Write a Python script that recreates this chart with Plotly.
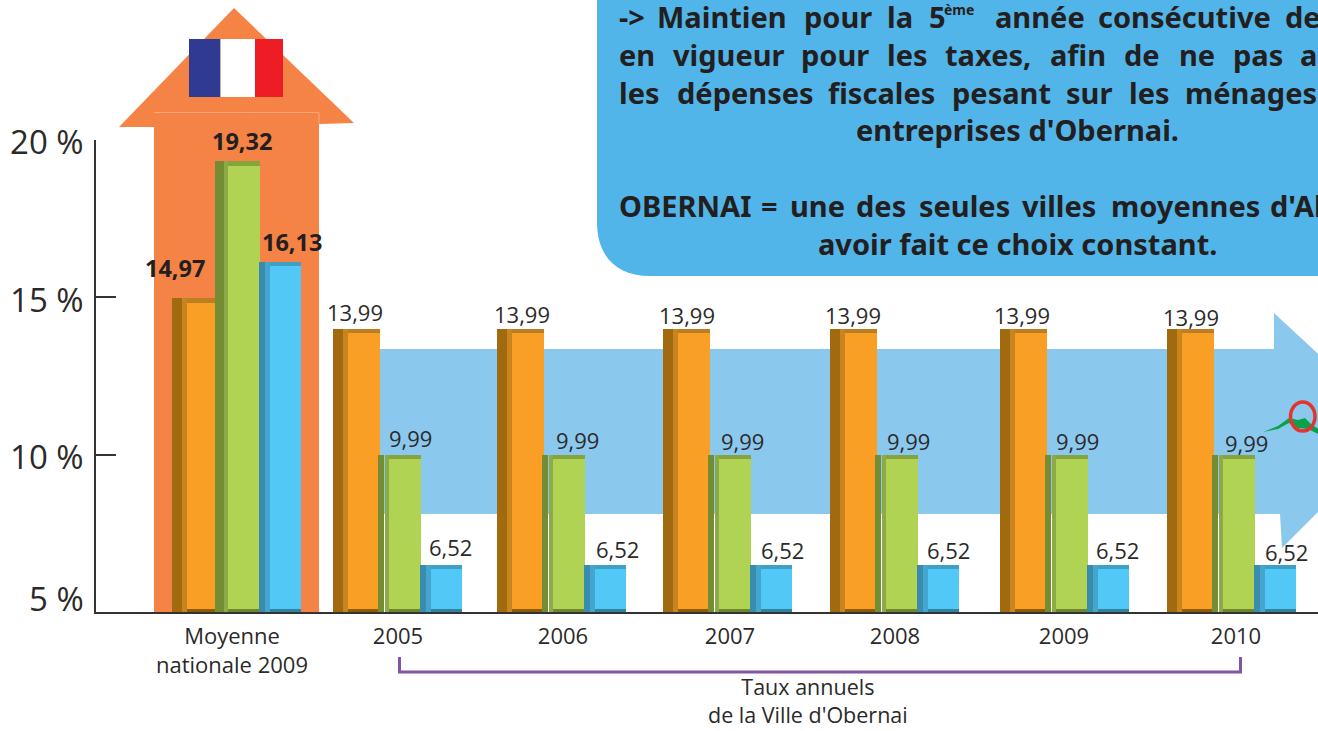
import plotly.graph_objects as go

# ---------- data ----------
categories = ["Moyenne<br>nationale 2009", "2005", "2006", "2007", "2008", "2009", "2010"]
taxe_a = [14.97, 13.99, 13.99, 13.99, 13.99, 13.99, 13.99]
taxe_b = [19.32, 9.99, 9.99, 9.99, 9.99, 9.99, 9.99]
taxe_c = [16.13, 6.52, 6.52, 6.52, 6.52, 6.52, 6.52]
y_ticks = [5, 10, 15, 20]
y_labels = ["5 %", "10 %", "15 %", "20 %"]

# ---------- layout helpers ----------
W, H = 1318, 731
X0, Y_BASE, Y_TOP = 96, 612, 139.5
def px(v): return v / W
def py(v): return 1 - v / H
def path(points):
    return "M " + " L ".join(f"{px(a):.5f},{py(b):.5f}" for a, b in points) + " Z"

group_left = [172, 333, 497, 663, 830, 1000, 1167]
tick_pos = [232, 398, 563, 730, 895, 1064, 1236]
label_dy = [0, 0, -2, -3, -3, -3, -5]
label_dx = [0, -1, 2, 1, 0, -1, 1]
FONT = "Open Sans"
INK = "#2b2a29"

series = [
    dict(name="A", values=taxe_a, side=[(0, 10)] * 7, bevel=(10, 15), front=(15, 47),
         colors=("#a16a0e", "#c8851f", "#bb7e22", "#f99f26", "#8f5c06"),
         lab=[3] + [23] * 6, bold_dy=30),
    dict(name="B", values=taxe_b, side=[(43, 52)] + [(45, 51)] * 6, bevel=(52, 56), front=(56, 88),
         colors=("#748c34", "#8eaa48", "#86a43e", "#b1d353", "#6d8730"),
         lab=[70] + [78] * 6, bold_dy=20),
    dict(name="C", values=taxe_c, side=[(87, 93)] * 7, bevel=(93, 98), front=(98, 129),
         colors=("#3a8cae", "#44a6cf", "#3fa0c6", "#52c8f6", "#33829f"),
         lab=[120] + [118] * 6, bold_dy=19),
]

fig = go.Figure()
TOP_STRIP = 0.13
BOTTOM_STRIP = 0.11
for s in series:
    dark, mid, top, front, bottom = s["colors"]
    n = len(s["values"])
    def add(lefts, rights, tops, bases, color):
        fig.add_trace(go.Bar(
            x=[(a + b) / 2 for a, b in zip(lefts, rights)],
            width=[b - a for a, b in zip(lefts, rights)],
            y=[t - b for t, b in zip(tops, bases)], base=bases,
            marker=dict(color=color, line=dict(width=0)),
            showlegend=False, hoverinfo="skip", name=s["name"]))
    add([g + a for g, (a, _) in zip(group_left, s["side"])],
        [g + b for g, (_, b) in zip(group_left, s["side"])], s["values"], [5] * n, dark)
    add([g + s["bevel"][0] for g in group_left], [g + s["bevel"][1] for g in group_left],
        s["values"], [5] * n, mid)
    add([g + s["front"][0] for g in group_left], [g + s["front"][1] for g in group_left],
        s["values"], [5] * n, top)
    add([g + s["front"][0] for g in group_left], [g + s["front"][1] for g in group_left],
        [v - TOP_STRIP for v in s["values"]], [5 + BOTTOM_STRIP] * n, front)
    add([g + s["front"][0] for g in group_left], [g + s["front"][1] for g in group_left],
        [5 + BOTTOM_STRIP] * n, [5] * n, bottom)

annotations = []
# value labels
for s in series:
    for i, v in enumerate(s["values"]):
        txt = f"{v:.2f}".replace(".", ",")
        national = i == 0
        annotations.append(dict(
            x=group_left[i] + s["lab"][i] + label_dx[i], y=v, xref="x", yref="y",
            text=f"<b>{txt}</b>" if national else txt, showarrow=False,
            xanchor="center", yanchor="middle",
            yshift=s["bold_dy"] if national else 17 + label_dy[i],
            font=dict(family=FONT, size=23.5 if national else 22,
                      color=INK if not national else "#231f20")))
# "5 %" sits above its tick in the source
annotations.append(dict(x=px(86), y=py(598), xref="paper", yref="paper", text=y_labels[0],
                        xanchor="right", yanchor="middle", showarrow=False,
                        font=dict(family=FONT, size=33, color=INK)))
# group caption
annotations.append(dict(x=px(808), y=py(730.5), xref="paper", yref="paper",
                        text="Taux annuels<br>de la Ville d'Obernai",
                        showarrow=False, xanchor="center", yanchor="bottom", align="center",
                        font=dict(family=FONT, size=21.5, color=INK)))
# callout text
BOX_FONT = "Noto Sans"
BOX_SIZE = 29
words = [
    (16, [("->", 619), ("Maintien", 657), ("pour", 804), ("la", 887), ("5", 929),
          ("année", 995), ("consécutive", 1098), ("de", 1285)]),
    (54, [("en", 619), ("vigueur", 673), ("pour", 801), ("les", 887), ("taxes,", 945),
          ("afin", 1050), ("de", 1124), ("ne", 1179), ("pas", 1233), ("a", 1300)]),
    (92, [("les", 619), ("dépenses", 677), ("fiscales", 828), ("pesant", 952), ("sur", 1066),
          ("les", 1129), ("ménages", 1185)]),
    (205, [("OBERNAI", 619), ("=", 761), ("une", 790), ("des", 856), ("seules", 919),
           ("villes", 1022), ("moyennes", 1111), ("d'Al", 1270)]),
]
for yy, line in words:
    for w, xx in line:
        annotations.append(dict(x=px(xx - 2), y=py(yy), xref="paper", yref="paper", text=f"<b>{w}</b>",
                                showarrow=False, xanchor="left", yanchor="middle",
                                font=dict(family=BOX_FONT, size=BOX_SIZE, color="#231f20")))
annotations.append(dict(x=px(942), y=py(9), xref="paper", yref="paper", text="<b>ème</b>",
                        showarrow=False, xanchor="left", yanchor="middle",
                        font=dict(family=BOX_FONT, size=14, color="#231f20")))
for t, yy in [("entreprises d'Obernai.", 130), ("avoir fait ce choix constant.", 243)]:
    annotations.append(dict(x=px(1017), y=py(yy), xref="paper", yref="paper", text=f"<b>{t}</b>",
                            showarrow=False, xanchor="center", yanchor="middle",
                            font=dict(family=BOX_FONT, size=BOX_SIZE, color="#231f20")))

below = dict(layer="below", line=dict(width=0), xref="paper", yref="paper")
shapes = [
    # blue progress arrow
    dict(type="path", path=path([(379, 349), (1274, 349), (1274, 313), (1400, 430), (1282, 548),
                                 (1280, 514), (379, 514)]), fillcolor="#8bc8ee", **below),
    # orange arrow
    dict(type="path", path=path([(154, 612), (154, 127), (119, 127), (234, 8), (354, 123),
                                 (319, 124), (319, 612)]), fillcolor="#f58345", **below),
    dict(type="path", path=f"M {px(154)},{py(112.5)} L {px(319)},{py(112.5)} L {px(319)},{py(124)}",
         fillcolor="rgba(0,0,0,0)", line=dict(color="#f9a67d", width=1), layer="below",
         xref="paper", yref="paper"),
    # flag
    dict(type="rect", x0=px(189), x1=px(220.5), y0=py(97), y1=py(39), fillcolor="#2f3a92", **below),
    dict(type="rect", x0=px(220.5), x1=px(255), y0=py(97), y1=py(39), fillcolor="#ffffff", **below),
    dict(type="rect", x0=px(255), x1=px(283), y0=py(97), y1=py(39), fillcolor="#ee1c25", **below),
    # callout box
    dict(type="path",
         path=(f"M {px(597)},{py(-10)} L {px(597)},{py(222)} "
               f"C {px(597)},{py(255)} {px(615)},{py(276)} {px(650)},{py(276)} "
               f"L {px(1330)},{py(276)} L {px(1330)},{py(-10)} Z"),
         fillcolor="#52b5e9", **below),
    # bracket
    dict(type="path",
         path=f"M {px(399.5)},{py(657)} L {px(399.5)},{py(672)} L {px(1240.5)},{py(672)} L {px(1240.5)},{py(657)}",
         fillcolor="rgba(0,0,0,0)", line=dict(color="#8356a5", width=3), xref="paper", yref="paper"),
    # logo fragment on the arrow
    dict(type="path",
         path=path([(1263, 432), (1278, 426), (1289, 418), (1298, 420), (1305, 418), (1311, 424),
                    (1320, 430), (1320, 435), (1308, 429), (1298, 428), (1289, 423), (1278, 429)]),
         fillcolor="#0ba14b", line=dict(width=0), xref="paper", yref="paper"),
    dict(type="circle", x0=px(1290.5), x1=px(1315), y0=py(431), y1=py(402),
         fillcolor="rgba(0,0,0,0)", line=dict(color="#e2352e", width=3.5), xref="paper", yref="paper"),
]

fig.update_layout(
    width=W, height=H, margin=dict(l=0, r=0, t=0, b=0, pad=0),
    paper_bgcolor="#ffffff", plot_bgcolor="rgba(0,0,0,0)",
    barmode="overlay", bargap=0, showlegend=False,
    annotations=annotations, shapes=shapes,
    font=dict(family=FONT, color=INK),
    xaxis=dict(domain=[px(X0), 1], range=[X0, W], tickmode="array", tickvals=tick_pos,
               ticktext=categories, ticks="", showgrid=False, zeroline=False, automargin=False,
               showline=True, linecolor="#333333", linewidth=2,
               tickfont=dict(family=FONT, size=22, color=INK), ticklabelstandoff=4),
    yaxis=dict(domain=[py(Y_BASE), py(Y_TOP)], range=[5, 20], tickmode="array", automargin=False,
               tickvals=y_ticks, ticktext=[""] + y_labels[1:], ticks="inside", ticklen=20,
               tickwidth=1.5, tickcolor="#333333", showgrid=False, zeroline=False,
               showline=True, linecolor="#333333", linewidth=1.5,
               tickfont=dict(family=FONT, size=33, color=INK), ticklabelstandoff=4, ticklabelshift=3),
)
fig.write_html("out.html", config={"displayModeBar": False},
               post_script="document.body.style.margin='0';document.body.style.overflow='hidden';")
